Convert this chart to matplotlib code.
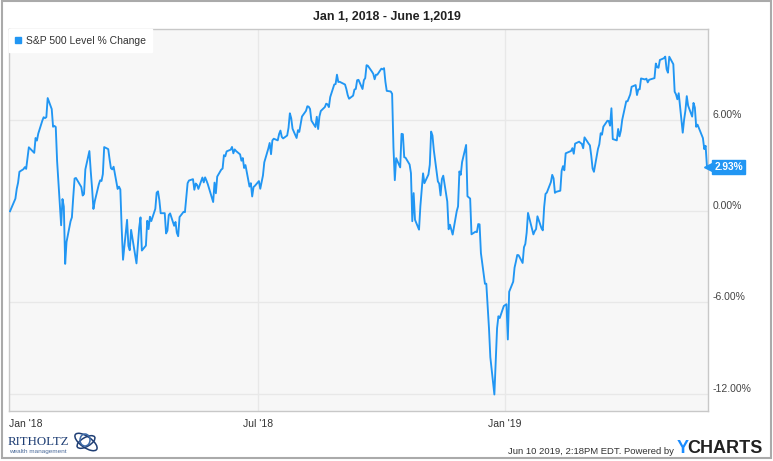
import numpy as np
import pandas as pd
import matplotlib
matplotlib.use("Agg")
import matplotlib.pyplot as plt
import matplotlib.dates as mdates
from matplotlib import font_manager
from matplotlib.lines import Line2D
from matplotlib.patches import Rectangle, Ellipse
from matplotlib.transforms import ScaledTranslation, Affine2D
from pandas.tseries.offsets import CustomBusinessDay

# ---------------- data ----------------
BASE_DATE = "2017-12-29"
BASE_LEVEL = 2673.61

HOLIDAYS = ["2018-01-01", "2018-01-15", "2018-02-19", "2018-03-30", "2018-05-28",
            "2018-07-04", "2018-09-03", "2018-11-22", "2018-12-05", "2018-12-25",
            "2019-01-01", "2019-01-21", "2019-02-18", "2019-04-19", "2019-05-27"]

lvl_2018_01 = [2695.81, 2713.06, 2723.99, 2743.15, 2747.71, 2751.29, 2748.23, 2767.56, 2786.24, 2776.42,
               2802.56, 2798.03, 2810.30, 2832.97, 2839.13, 2837.54, 2839.25, 2872.87, 2853.53, 2822.43, 2823.81]
lvl_2018_02 = [2821.98, 2762.13, 2648.94, 2695.14, 2681.66, 2581.00, 2619.55, 2656.00, 2662.94, 2698.63,
               2731.20, 2732.22, 2716.26, 2701.33, 2703.96, 2747.30, 2779.60, 2744.28, 2713.83]
lvl_2018_03 = [2677.67, 2691.25, 2720.94, 2728.12, 2726.80, 2738.97, 2786.57, 2783.02, 2765.31, 2749.48,
               2747.33, 2752.01, 2712.92, 2716.94, 2711.93, 2643.69, 2588.26, 2658.55, 2612.62, 2605.00, 2640.87]
lvl_2018_04 = [2581.88, 2614.45, 2644.69, 2662.84, 2604.47, 2613.16, 2656.87, 2642.19, 2663.99, 2656.30,
               2677.84, 2706.39, 2708.64, 2693.13, 2670.14, 2670.29, 2634.56, 2639.40, 2666.94, 2669.91, 2648.05]
lvl_2018_05 = [2654.80, 2635.67, 2629.73, 2663.42, 2672.63, 2671.92, 2697.79, 2723.07, 2727.72, 2730.13,
               2711.45, 2722.46, 2720.13, 2712.97, 2733.01, 2724.44, 2733.29, 2727.76, 2721.33, 2689.86,
               2724.01, 2705.27]
lvl_2018_06 = [2734.62, 2746.87, 2748.80, 2772.35, 2770.37, 2779.03, 2782.00, 2786.85, 2775.63, 2782.49,
               2779.66, 2773.75, 2762.59, 2767.32, 2749.76, 2754.88, 2717.07, 2723.06, 2699.63, 2716.31, 2718.37]
lvl_2018_07 = [2726.71, 2713.22, 2736.61, 2759.82, 2784.17, 2793.84, 2774.02, 2798.29, 2801.31, 2798.43,
               2809.55, 2815.62, 2804.49, 2801.83, 2806.98, 2820.40, 2846.07, 2837.44, 2818.82, 2802.60, 2816.29]
lvl_2018_08 = [2813.36, 2827.22, 2840.35, 2850.40, 2858.45, 2857.70, 2853.58, 2833.28, 2821.93, 2839.96,
               2818.37, 2840.69, 2850.13, 2857.05, 2862.96, 2861.82, 2856.98, 2874.69, 2896.74, 2897.52,
               2914.04, 2901.13, 2901.52]
lvl_2018_09 = [2896.72, 2888.60, 2878.05, 2871.68, 2877.13, 2887.89, 2888.92, 2904.18, 2904.98, 2888.80,
               2904.31, 2907.95, 2930.75, 2929.67, 2919.37, 2915.56, 2905.97, 2914.00, 2913.98]
lvl_2018_10 = [2924.59, 2923.43, 2925.51, 2901.61, 2885.57, 2884.43, 2880.34, 2785.68, 2728.37, 2767.13,
               2750.79, 2809.92, 2809.21, 2768.78, 2767.78, 2755.88, 2740.69, 2656.10, 2705.57, 2658.69,
               2641.25, 2682.63, 2711.74]
lvl_2018_11 = [2740.37, 2723.06, 2738.31, 2755.45, 2813.89, 2806.83, 2781.01, 2726.22, 2722.18, 2701.58,
               2730.20, 2736.27, 2690.73, 2641.89, 2649.93, 2632.56, 2673.45, 2682.17, 2743.79, 2737.80, 2760.17]
lvl_2018_12 = [2790.37, 2700.06, 2695.95, 2633.08, 2637.72, 2636.78, 2651.07, 2650.54, 2599.95, 2545.94,
               2546.16, 2506.96, 2467.42, 2416.62, 2351.10, 2467.70, 2488.83, 2485.74, 2506.85]
lvl_2019_01 = [2510.03, 2447.89, 2531.94, 2549.69, 2574.41, 2584.96, 2596.64, 2596.26, 2582.61, 2610.30,
               2616.10, 2635.96, 2670.71, 2632.90, 2638.70, 2642.33, 2664.76, 2643.85, 2640.00, 2681.05, 2704.10]
lvl_2019_02 = [2706.53, 2724.87, 2737.70, 2731.61, 2706.05, 2707.88, 2709.80, 2744.73, 2753.03, 2745.73,
               2775.60, 2779.76, 2784.70, 2774.88, 2792.67, 2796.11, 2793.90, 2792.38, 2784.49]
lvl_2019_03 = [2803.69, 2792.81, 2789.65, 2771.45, 2748.93, 2743.07, 2783.30, 2791.52, 2810.92, 2808.48,
               2822.48, 2832.94, 2832.57, 2824.23, 2854.88, 2800.71, 2798.36, 2818.46, 2805.37, 2815.44, 2834.40]
lvl_2019_04 = [2867.19, 2867.24, 2873.40, 2879.39, 2892.74, 2895.77, 2878.20, 2888.21, 2888.32, 2907.41,
               2905.58, 2907.06, 2900.45, 2905.03, 2907.97, 2933.68, 2927.25, 2926.17, 2939.88, 2943.03, 2945.83]
lvl_2019_05 = [2923.73, 2917.52, 2945.64, 2932.47, 2884.05, 2879.42, 2870.72, 2881.40, 2811.87, 2834.41,
               2850.96, 2876.32, 2859.53, 2840.23, 2864.36, 2856.27, 2822.24, 2826.06, 2802.39, 2783.02,
               2788.86, 2752.06]

series_name = "S&P 500 Level % Change"
title_text = "Jan 1, 2018 - June 1,2019"
ytick_values = [6, 0, -6, -12]
ytick_labels = ["6.00%", "0.00%", "-6.00%", "-12.00%"]
xtick_dates = ["2018-01-01", "2018-07-01", "2019-01-01"]
xtick_labels = ["Jan '18", "Jul '18", "Jan '19"]
xgrid_dates = ["2018-07-01", "2019-01-01"]

levels = ([BASE_LEVEL] + lvl_2018_01 + lvl_2018_02 + lvl_2018_03 + lvl_2018_04 + lvl_2018_05 +
          lvl_2018_06 + lvl_2018_07 + lvl_2018_08 + lvl_2018_09 + lvl_2018_10 + lvl_2018_11 +
          lvl_2018_12 + lvl_2019_01 + lvl_2019_02 + lvl_2019_03 + lvl_2019_04 + lvl_2019_05)
trade_dates = pd.date_range("2018-01-02", "2019-05-31", freq=CustomBusinessDay(holidays=HOLIDAYS))
dates = pd.DatetimeIndex([pd.Timestamp(BASE_DATE)]).append(trade_dates)
assert len(dates) == len(levels), (len(dates), len(levels))
pct = (np.array(levels) / BASE_LEVEL - 1.0) * 100.0
xnum = mdates.date2num(dates.to_pydatetime())

# ---------------- fonts ----------------
available = {f.name for f in font_manager.fontManager.ttflist}
if "Liberation Sans Narrow" in available:
    NARROW = "Liberation Sans Narrow"
    shrink = 1.0
else:
    NARROW = "Liberation Sans"
    shrink = 0.85
plt.rcParams["font.family"] = [NARROW, "DejaVu Sans"]

# ---------------- figure ----------------
W, H = 773, 461
fig = plt.figure(figsize=(W / 100, H / 100), dpi=100)
fig.patch.set_facecolor("white")

def px(x, y):
    return x / W, 1 - y / H

L, R, T, B = 9, 708.3, 29.3, 410.7
ax = fig.add_axes([L / W, 1 - B / H, (R - L) / W, (B - T) / H])
ax.set_facecolor("#f7f7f7")
for s in ax.spines.values():
    s.set_color("#c8c8c8")
    s.set_linewidth(1.0)

BLUE = "#2196f3"
ax.plot(xnum, pct, color=BLUE, lw=1.35, solid_joinstyle="round", zorder=3)

x0 = mdates.date2num(pd.Timestamp(BASE_DATE)) - 0.75
x1 = mdates.date2num(pd.Timestamp("2019-05-31")) + 1.0
ax.set_xlim(x0, x1)
ax.set_ylim(-13.13, 11.98)

# grid
ax.set_yticks(ytick_values)
ax.yaxis.grid(True, color="#e8e8e8", lw=1.0)
for d in xgrid_dates:
    ax.axvline(mdates.date2num(pd.Timestamp(d)), color="#e8e8e8", lw=1.0, zorder=1)
ax.set_axisbelow(True)

ax.yaxis.tick_right()
ax.set_yticklabels(ytick_labels)
ax.tick_params(axis="y", length=0, pad=3, labelsize=8.8 * shrink, labelcolor="#444444")
for lab in ax.get_yticklabels():
    lab.set_va("bottom")

ax.set_xticks(mdates.date2num(pd.to_datetime(xtick_dates).to_pydatetime()))
ax.set_xticklabels(xtick_labels)
ax.tick_params(axis="x", length=0, pad=6, labelsize=8.8 * shrink, labelcolor="#333333")
first = ax.get_xticklabels()[0]
first.set_ha("left")
first.set_transform(first.get_transform() + ScaledTranslation(-5 / 100, 0, fig.dpi_scale_trans))

# legend
handle = Line2D([], [], marker="s", color=BLUE, ls="none", markersize=5)
leg = ax.legend([handle], [series_name], loc="upper left", bbox_to_anchor=(0, 1),
                borderaxespad=0, frameon=True, fancybox=False, facecolor="white",
                edgecolor="white", framealpha=1, handlelength=0.6, handletextpad=0.45,
                borderpad=0.6, fontsize=8.8 * shrink)
for t in leg.get_texts():
    t.set_color("#333333")

# last value flag
last = pct[-1]
ax.plot([1.0], [last], marker="<", color=BLUE, markersize=6, transform=ax.get_yaxis_transform(),
        clip_on=False, zorder=5)
ax.annotate(f"{last:.2f}%", xy=(1.0, last), xycoords=ax.get_yaxis_transform(),
            xytext=(6, 0), textcoords="offset pixels", ha="left", va="center",
            color="white", fontweight="bold", fontsize=8.6 * shrink,
            bbox=dict(boxstyle="square,pad=0.18", fc=BLUE, ec=BLUE), zorder=6,
            annotation_clip=False)

# title
fig.text(*px(387, 17), title_text, ha="center", va="center", fontsize=10.5 * shrink,
         fontweight="bold", color="#222222")

# footer
fig.text(*px(674, 451), "Jun 10 2019, 2:18PM EDT. Powered by", ha="right", va="center",
         fontsize=8.0 * shrink, color="#333333")
fig.text(*px(677, 448), "Y", ha="left", va="center", fontsize=13, fontweight="bold",
         color="#1a8cff", family="Liberation Sans")
fig.text(*px(763, 448), "CHARTS", ha="right", va="center", fontsize=13, fontweight="bold",
         color="#222222", family="Liberation Sans")

# logo (text + simple swirl mark)
fig.text(*px(8, 442), "RITHOLTZ", ha="left", va="center", fontsize=9.3, color="#1f3e74",
         family="Liberation Serif")
fig.text(*px(9, 451), "wealth management", ha="left", va="center", fontsize=4.6,
         color="#4a6a9a", family="Liberation Sans")
pix = Affine2D().scale(1, -1).translate(0, H)  # top-left pixel coords -> display
for (cx, cy), ang, w_, h_, col in [((86, 442), 35, 26, 11, "#1f3e74"),
                                   ((86, 442), -30, 20, 9, "#1f3e74"),
                                   ((85, 440), 0, 10, 12, "#3d6aa8")]:
    fig.add_artist(Ellipse((cx, cy), w_, h_, angle=ang, fill=False, ec=col, lw=1.1, transform=pix))

# outer border
fig.add_artist(Rectangle(px(1.5, 457.5), (771 - 1.5) / W, (457.5 - 1.5) / H, fill=False,
                         ec="#aaaaaa", lw=1.5, transform=fig.transFigure))

fig.savefig("out.png", dpi=100, facecolor="white")
